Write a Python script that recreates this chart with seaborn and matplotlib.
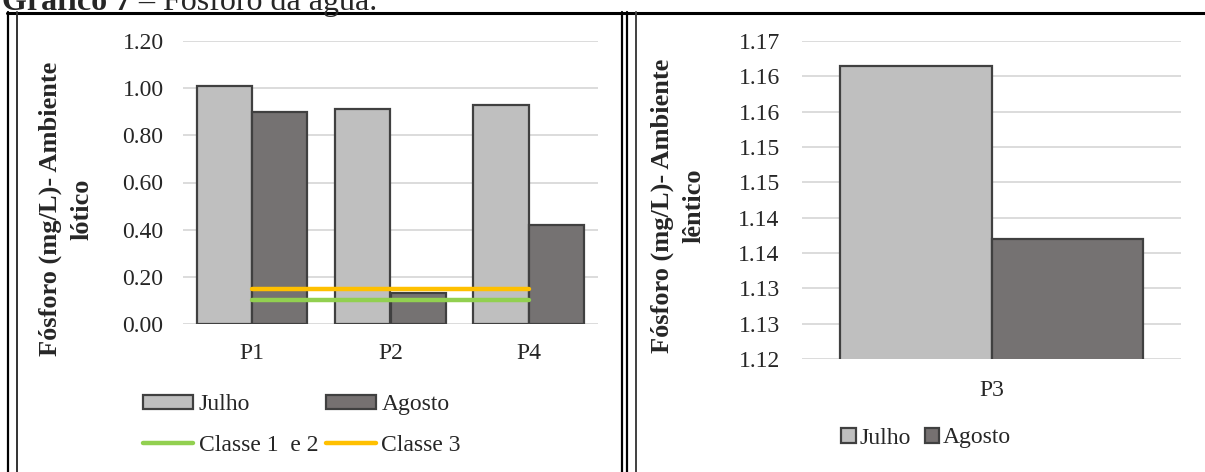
import matplotlib
matplotlib.use('Agg')
import matplotlib.pyplot as plt
import seaborn as sns
import pandas as pd
import numpy as np
from matplotlib.patches import Patch
from matplotlib.lines import Line2D

# ambiente lótico
pontos_lotico = ['P1', 'P2', 'P4']
julho_lotico = [1.01, 0.91, 0.93]
agosto_lotico = [0.90, 0.13, 0.42]
classe_1_2 = [0.10, 0.10, 0.10]
classe_3 = [0.15, 0.15, 0.15]
ticks_lotico = [0.0, 0.2, 0.4, 0.6, 0.8, 1.0, 1.2]

# ambiente lêntico
pontos_lentico = ['P3']
julho_lentico = [1.1615]
agosto_lentico = [1.137]
ticks_lentico = [1.120, 1.125, 1.130, 1.135, 1.140, 1.145, 1.150, 1.155, 1.160, 1.165]
labels_lentico = ['1.12', '1.13', '1.13', '1.14', '1.14', '1.15', '1.15', '1.16', '1.16', '1.17']

meses = ['Julho', 'Agosto']
cores = {'Julho': '#BFBFBF', 'Agosto': '#767171'}
borda = '#404040'
grade = '#D9D9D9'

sns.set_style('white')
plt.rcParams['font.family'] = ['Liberation Serif', 'DejaVu Serif']
FS = 17
FS_LABEL = 19

W, H = 1205, 472
fig = plt.figure(figsize=(W / 100, H / 100), dpi=100)


def px(x0, y0, x1, y1):
    return [x0 / W, 1 - y1 / H, (x1 - x0) / W, (y1 - y0) / H]


def long_df(pontos, julho, agosto):
    return pd.DataFrame({
        'ponto': pontos * 2,
        'mes': ['Julho'] * len(pontos) + ['Agosto'] * len(pontos),
        'valor': julho + agosto,
    })


def style_axis(ax, ticks, labels, ylim, pad_y, pad_x):
    ax.set_ylim(*ylim)
    ax.set_yticks(ticks)
    ax.set_yticklabels(labels)
    ax.yaxis.grid(True, color=grade, linewidth=1.3)
    ax.set_axisbelow(True)
    for s in ax.spines.values():
        s.set_visible(False)
    ax.tick_params(axis='y', length=0, pad=pad_y, labelsize=FS)
    ax.tick_params(axis='x', length=0, pad=pad_x, labelsize=FS)
    ax.set_xlabel('')


def place_ylabel(ax, text, x, y):
    ax.set_ylabel(text, fontsize=FS_LABEL, fontweight='bold', linespacing=1.45)
    ax.yaxis.label.set_rotation_mode('default')
    ax.yaxis.label.set_va('center')
    ax.yaxis.set_label_coords(x, y)


# left panel
ax1 = fig.add_axes(px(183, 41, 598, 324))
df1 = long_df(pontos_lotico, julho_lotico, agosto_lotico)
sns.barplot(data=df1, x='ponto', y='valor', hue='mes', hue_order=meses,
            palette=cores, edgecolor=borda, linewidth=1.6, width=0.8,
            legend=False, ax=ax1)
pos = np.arange(len(pontos_lotico))
ax1.plot(pos, classe_1_2, color='#92D050', linewidth=3.2, solid_capstyle='round')
ax1.plot(pos, classe_3, color='#FFC000', linewidth=3.2, solid_capstyle='round')
ax1.set_xlim(-0.5, len(pontos_lotico) - 0.5)
style_axis(ax1, ticks_lotico, [f'{t:.2f}' for t in ticks_lotico], (0, 1.2), 14, 14)
place_ylabel(ax1, 'Fósforo (mg/L)- Ambiente\nlótico', (66 - 183) / 415, (324 - 209) / 283)

h1 = [Patch(facecolor=cores['Julho'], edgecolor=borda, linewidth=1.6, label='Julho'),
      Line2D([], [], color='#92D050', linewidth=3.2, solid_capstyle='round', label='Classe 1  e 2'),
      Patch(facecolor=cores['Agosto'], edgecolor=borda, linewidth=1.6, label='Agosto'),
      Line2D([], [], color='#FFC000', linewidth=3.2, solid_capstyle='round', label='Classe 3')]
fig.legend(handles=h1, ncol=2, loc='center', bbox_to_anchor=(302 / W, 1 - 425 / H),
           frameon=False, fontsize=FS, handlelength=2.12, handleheight=0.5,
           handletextpad=0.25, columnspacing=0.3, labelspacing=0.82, borderpad=0)

# right panel
ax2 = fig.add_axes(px(802, 41, 1181, 359))
df2 = long_df(pontos_lentico, julho_lentico, agosto_lentico)
sns.barplot(data=df2, x='ponto', y='valor', hue='mes', hue_order=meses,
            palette=cores, edgecolor=borda, linewidth=1.6, width=0.8,
            legend=False, ax=ax2)
ax2.set_xlim(-0.5, 0.5)
style_axis(ax2, ticks_lentico, labels_lentico, (1.12, 1.165), 16, 15)
place_ylabel(ax2, 'Fósforo (mg/L)- Ambiente\nlêntico', (678 - 802) / 379, (359 - 206) / 317)

h2 = [Patch(facecolor=cores[m], edgecolor=borda, linewidth=1.6, label=m) for m in meses]
fig.legend(handles=h2, ncol=2, loc='center', bbox_to_anchor=(926 / W, 1 - 438 / H),
           frameon=False, fontsize=FS, handlelength=0.6, handleheight=0.6,
           handletextpad=0.15, columnspacing=0.6, borderpad=0)

# table borders
def vline(x, color, lw):
    fig.add_artist(Line2D([x / W, x / W], [0, 1 - 12 / H], transform=fig.transFigure,
                          color=color, linewidth=lw))

fig.add_artist(Line2D([7 / W, 1], [1 - 12.5 / H, 1 - 12.5 / H], transform=fig.transFigure,
                      color='black', linewidth=2.2))
vline(8, 'black', 1.6)
vline(17, '#333333', 1.4)
vline(621.5, 'black', 1.6)
vline(626.5, 'black', 1.6)
vline(636, '#404040', 1.4)

# title (cut at the top, as in the page)
t1 = fig.text(2 / W, 1 - 10 / H, 'Gráfico 7', fontsize=23, fontweight='bold', va='baseline')
fig.canvas.draw()
bb = t1.get_window_extent(renderer=fig.canvas.get_renderer())
fig.text(bb.x1 / W, 1 - 10 / H, ' – Fósforo da água.', fontsize=23, va='baseline')

fig.savefig('out.png', dpi=100)
